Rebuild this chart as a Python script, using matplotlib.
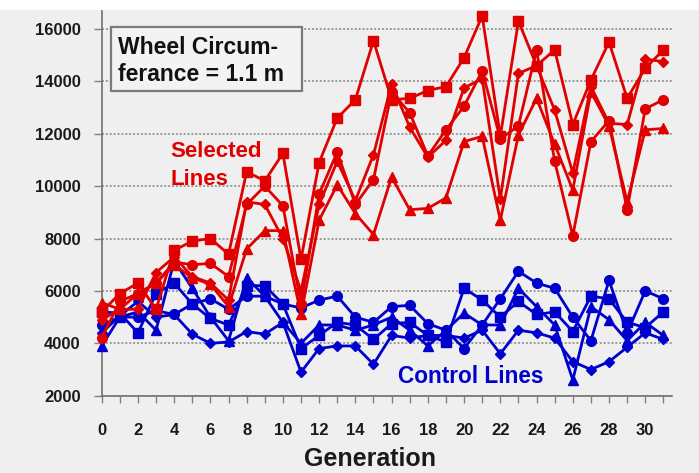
import matplotlib
matplotlib.use('Agg')
import matplotlib.pyplot as pl
from matplotlib.patches import Rectangle

generations = list(range(32))

# selected lines (red)
sel_squares = [5200, 5900, 6300, 5300, 7550, 7900, 8000, 7400, 10550, 10200, 11250, 7200,
               10900, 12600, 13300, 15550, 13300, 13350, 13650, 13800, 14900, 16500, 11900, 16300,
               14600, 15200, 12350, 14050, 15500, 13350, 14500, 15200]
sel_circles = [4200, 5600, 5900, 6300, 7100, 7000, 7050, 6550, 9300, 10000, 9250, 5500,
               9700, 11300, 9300, 10250, 13600, 12800, 11150, 12150, 13050, 14400, 11800, 12300,
               15200, 10950, 8100, 11700, 12500, 9100, 12950, 13300]
sel_diamonds = [4900, 5300, 5300, 6700, 7300, 6550, 6300, 5650, 9400, 9300, 8000, 6000,
                9300, 10950, 9450, 11200, 13900, 12250, 11100, 11750, 13750, 14100, 9500, 14300,
                14600, 12900, 10500, 13800, 12400, 12350, 14850, 14750]
sel_triangles = [5550, 5300, 5900, 6300, 7000, 6500, 6250, 5400, 7600, 8300, 8300, 5100,
                 8700, 10050, 8950, 8150, 10350, 9100, 9150, 9550, 11700, 11900, 8700, 11950,
                 13350, 11600, 9850, 13600, 12300, 9400, 12150, 12200]

# control lines (blue)
ctl_squares = [5200, 5150, 4400, 5900, 6300, 5500, 4950, 4700, 6200, 6200, 5500, 3800,
               4300, 4800, 4700, 4150, 4750, 4800, 4300, 4050, 6100, 5650, 5000, 5600,
               5100, 5200, 4450, 5800, 5700, 4800, 4600, 5200]
ctl_circles = [4700, 5000, 5000, 5250, 5100, 5500, 5700, 5300, 5800, 5800, 5500, 5350,
               5650, 5800, 5000, 4800, 5400, 5450, 4750, 4500, 3800, 4700, 5700, 6750,
               6300, 6100, 5000, 4100, 6400, 4400, 6000, 5700]
ctl_diamonds = [4400, 5050, 5600, 5000, 5100, 4350, 4000, 4050, 4450, 4350, 4800, 2900,
                3800, 3900, 3900, 3200, 4300, 4200, 4300, 4300, 4200, 4500, 3600, 4500,
                4400, 4200, 3300, 3000, 3300, 3850, 4400, 4150]
ctl_triangles = [3900, 5000, 5200, 4500, 7150, 6100, 5000, 4100, 6500, 5800, 4800, 4000,
                 4700, 4700, 4500, 4700, 5000, 4500, 3900, 4500, 5150, 4700, 4700, 6100,
                 5400, 4700, 2600, 5400, 4900, 4100, 4800, 4300]

y_ticks = [2000, 4000, 6000, 8000, 10000, 12000, 14000, 16000]

RED = '#e00000'
BLUE = '#0000cc'
BG = '#efefef'
FONT = ['Liberation Sans', 'DejaVu Sans']


def draw_series(ax, values, color, marker, ms):
    ax.plot(generations, values, '-', color=color, lw=2.0, marker=marker, ms=ms,
            mfc=color, mec=color, clip_on=False, zorder=3)


def main():
    fig = pl.figure(figsize=(6.99, 4.73), dpi=100)
    fig.patch.set_facecolor(BG)
    ax = fig.add_axes([0.1455, 0.1634, 0.8165, 0.8142])
    ax.set_facecolor(BG)

    for vals, mk, ms in [(ctl_diamonds, 'D', 5), (ctl_circles, 'o', 7),
                         (ctl_triangles, '^', 7), (ctl_squares, 's', 7)]:
        draw_series(ax, vals, BLUE, mk, ms)
    for vals, mk, ms in [(sel_triangles, '^', 7), (sel_diamonds, 'D', 5),
                         (sel_circles, 'o', 7), (sel_squares, 's', 7)]:
        draw_series(ax, vals, RED, mk, ms)

    ax.set_xlim(0, 31.5)
    ax.set_ylim(2000, 16700)
    ax.set_xticks(range(0, 31, 2))
    ax.set_xticks(range(0, 32), minor=True)
    ax.set_yticks(y_ticks)
    ax.set_xticklabels([str(g) for g in range(0, 31, 2)])
    for lab in ax.get_xticklabels() + ax.get_yticklabels():
        lab.set_family(FONT)
        lab.set_fontweight('bold')
        lab.set_fontsize(12)
        lab.set_color('#1a1a1a')

    ax.tick_params(axis='x', which='both', direction='out', length=5, width=1,
                   color='#808080', pad=15)
    ax.tick_params(axis='y', direction='out', length=6, width=1, color='#808080', pad=9)
    for side in ['top', 'right']:
        ax.spines[side].set_visible(False)
    for side in ['left', 'bottom']:
        ax.spines[side].set_color('#707070')
        ax.spines[side].set_linewidth(1.2)
    ax.yaxis.grid(True, color='#9a9a9a', linestyle=(0, (1, 1)), lw=1.4)
    ax.set_axisbelow(True)

    fig.text(370 / 699, 1 - 466 / 473, 'Generation', family=FONT, fontweight='bold',
             fontsize=18, color='#1a1a1a', ha='center', va='baseline')

    # caption box
    ax.add_patch(Rectangle((0.5, 13640), 10.55, 2420, fill=True, facecolor='#f3f3f3',
                           edgecolor='#7a7a7a', lw=1.6, zorder=4))
    ax.text(0.9, 15040, 'Wheel Circum-', family=FONT, fontweight='bold', fontsize=16.5,
            va='baseline', ha='left', color='#111111', zorder=5)
    ax.text(0.9, 14010, 'ferance = 1.1 m', family=FONT, fontweight='bold', fontsize=16.5,
            va='baseline', ha='left', color='#111111', zorder=5)

    ax.text(3.8, 11110, 'Selected', family=FONT, fontweight='bold', fontsize=16,
            va='baseline', ha='left', color=RED, zorder=5)
    ax.text(3.8, 10050, 'Lines', family=FONT, fontweight='bold', fontsize=16,
            va='baseline', ha='left', color=RED, zorder=5)
    ax.text(16.35, 2470, 'Control Lines', family=FONT, fontweight='bold', fontsize=16.3,
            va='baseline', ha='left', color=BLUE, zorder=5)

    # white strip along the top edge
    fig.patches.append(Rectangle((0, 1 - 10.5 / 473), 1, 10.5 / 473, transform=fig.transFigure,
                                 facecolor='white', edgecolor='none', zorder=10))

    pl.savefig('out.png', dpi=100, facecolor=fig.get_facecolor())


if __name__ == '__main__':
    main()
